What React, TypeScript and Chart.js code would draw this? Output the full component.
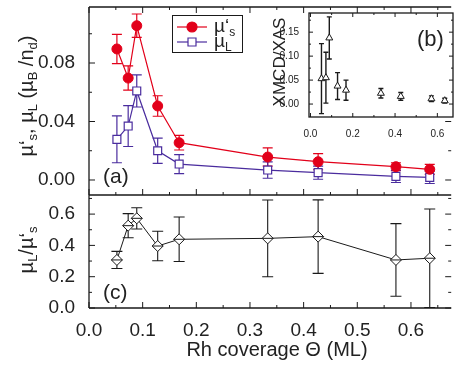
import React, { useEffect, useRef } from 'react';
import { Chart, registerables } from 'chart.js';

Chart.register(...registerables);

// ---------- data ----------
const coverage = [0.052, 0.073, 0.089, 0.128, 0.168, 0.333, 0.427, 0.572, 0.635];

const muS = [0.0896, 0.0697, 0.1055, 0.0506, 0.0255, 0.0157, 0.0125, 0.0091, 0.0073];
const muSErr = [0.010, 0.0083, 0.008, 0.007, 0.005, 0.0062, 0.0055, 0.0027, 0.0034];

const muL = [0.0278, 0.0369, 0.0609, 0.0200, 0.0109, 0.0068, 0.0050, 0.0025, 0.0018];
const muLErr = [0.016, 0.014, 0.011, 0.0087, 0.0065, 0.0056, 0.0045, 0.0042, 0.0042];

const ratio = [0.307, 0.526, 0.573, 0.396, 0.439, 0.445, 0.456, 0.307, 0.318];
const ratioErr = [0.055, 0.077, 0.068, 0.094, 0.142, 0.245, 0.235, 0.232, 0.315];

const xmcdXas = [0.053, 0.055, 0.138, 0.0375, 0.029, 0.0225, 0.016, 0.011, 0.007];
const xmcdXasErr = [0.073, 0.053, 0.044, 0.028, 0.021, 0.010, 0.008, 0.006, 0.005];

const xMajor = [0, 0.1, 0.2, 0.3, 0.4, 0.5, 0.6];
const xMinor = [0.05, 0.15, 0.25, 0.35, 0.45, 0.55, 0.65];
const muMajor = [0, 0.04, 0.08];
const muMinor = [0.02, 0.06, 0.1];
const ratioMajor = [0, 0.2, 0.4, 0.6];
const ratioMinor = [0.1, 0.3, 0.5, 0.7];
const insetXMajor = [0, 0.2, 0.4, 0.6];
const insetXMinor = [0.1, 0.3, 0.5];
const insetYMajor = [0, 0.05, 0.1, 0.15];
const insetYMinor = [0.025, 0.075, 0.125, 0.175];

// ---------- styles ----------
const FONT = '"Liberation Sans", Arial, Helvetica, sans-serif';
const RED = '#e2001a';
const PURPLE = '#4a2c9e';
const INK = '#1a1a1a';
const TEXT = '#222222';
const W = 458;
const H = 367;

Chart.defaults.font.family = FONT;

type Part = { t: string; sub?: boolean };

function drawRich(ctx: CanvasRenderingContext2D, parts: Part[], cx: number, cy: number,
  size: number, subSize: number, subDrop: number, rotate: boolean, align: 'center' | 'left' = 'center') {
  ctx.save();
  ctx.translate(cx, cy);
  if (rotate) ctx.rotate(-Math.PI / 2);
  ctx.textBaseline = 'alphabetic';
  ctx.textAlign = 'left';
  ctx.fillStyle = TEXT;
  let total = 0;
  const widths: number[] = [];
  for (const p of parts) {
    ctx.font = `${p.sub ? subSize : size}px ${FONT}`;
    const w = ctx.measureText(p.t).width;
    widths.push(w);
    total += w;
  }
  let x = align === 'center' ? -total / 2 : 0;
  parts.forEach((p, i) => {
    ctx.font = `${p.sub ? subSize : size}px ${FONT}`;
    ctx.fillText(p.t, x, p.sub ? subDrop : 0);
    x += widths[i];
  });
  ctx.restore();
}

function drawErr(ctx: CanvasRenderingContext2D, xs: any, ys: any, xv: number[], yv: number[],
  err: number[], color: string, cap: number, lw: number) {
  ctx.save();
  ctx.strokeStyle = color;
  ctx.lineWidth = lw;
  xv.forEach((xx, i) => {
    const px = xs.getPixelForValue(xx);
    const top = ys.getPixelForValue(yv[i] + err[i]);
    const bot = ys.getPixelForValue(yv[i] - err[i]);
    ctx.beginPath();
    ctx.moveTo(px, top); ctx.lineTo(px, bot);
    ctx.moveTo(px - cap, top); ctx.lineTo(px + cap, top);
    ctx.moveTo(px - cap, bot); ctx.lineTo(px + cap, bot);
    ctx.stroke();
  });
  ctx.restore();
}

const fixTicks = (vals: number[]) => (s: any) => { s.ticks = vals.map((v) => ({ value: v })); };

const mainPlugin = {
  id: 'mainDecor',
  beforeDatasetsDraw(chart: any) {
    const { ctx } = chart;
    const xs = chart.scales.x, yt = chart.scales.yt, yb = chart.scales.yb;
    drawErr(ctx, xs, yt, coverage, muS, muSErr, RED, 5, 1.2);
    drawErr(ctx, xs, yt, coverage, muL, muLErr, PURPLE, 5, 1.2);
    drawErr(ctx, xs, yb, coverage, ratio, ratioErr, INK, 5.5, 1.1);
  },
  afterDatasetsDraw(chart: any) {
    const { ctx } = chart;
    const xs = chart.scales.x, yt = chart.scales.yt, yb = chart.scales.yb;
    const L = xs.left, R = xs.right, T = yt.top, M = yt.bottom, B = yb.bottom;
    ctx.save();
    // horizontal bar inside the diamonds
    ctx.strokeStyle = INK;
    ctx.lineWidth = 1;
    ctx.beginPath();
    coverage.forEach((xx, i) => {
      const px = xs.getPixelForValue(xx);
      const py = yb.getPixelForValue(ratio[i]);
      ctx.moveTo(px - 5.5, py); ctx.lineTo(px + 5.5, py);
    });
    ctx.stroke();
    // frame
    ctx.lineWidth = 1.3;
    ctx.beginPath();
    ctx.moveTo(L, T); ctx.lineTo(R, T);
    ctx.moveTo(L, M); ctx.lineTo(R, M);
    ctx.moveTo(L, B); ctx.lineTo(R, B);
    ctx.moveTo(L, T); ctx.lineTo(L, B);
    ctx.stroke();
    // ticks
    ctx.lineWidth = 1;
    ctx.beginPath();
    const xt = (vals: number[], len: number) => vals.forEach((v) => {
      const p = xs.getPixelForValue(v);
      ctx.moveTo(p, T); ctx.lineTo(p, T + len);
      ctx.moveTo(p, M); ctx.lineTo(p, M - len);
      ctx.moveTo(p, B); ctx.lineTo(p, B - len);
    });
    xt(xMajor, 6); xt(xMinor, 3);
    const ytk = (sc: any, vals: number[], len: number) => vals.forEach((v) => {
      const p = sc.getPixelForValue(v);
      ctx.moveTo(L, p); ctx.lineTo(L + len, p);
      ctx.moveTo(R, p); ctx.lineTo(R - len, p);
    });
    ytk(yt, muMajor, 6); ytk(yt, muMinor, 3);
    ytk(yb, ratioMajor, 6); ytk(yb, ratioMinor, 3);
    ctx.stroke();

    // legend
    ctx.lineWidth = 1;
    ctx.strokeStyle = INK;
    ctx.fillStyle = '#fff';
    ctx.fillRect(172, 15, 71, 38);
    ctx.strokeRect(172.5, 15.5, 70, 37);
    const rows = [
      { y: 27, color: RED, style: 'circle', fill: RED, parts: [{ t: 'µ‘' }, { t: 's', sub: true }] },
      { y: 42, color: PURPLE, style: 'rect', fill: '#fff', parts: [{ t: 'µ' }, { t: 'L', sub: true }] },
    ];
    rows.forEach((r) => {
      ctx.strokeStyle = r.color;
      ctx.lineWidth = 1.2;
      ctx.beginPath();
      ctx.moveTo(177, r.y); ctx.lineTo(207, r.y);
      ctx.stroke();
      ctx.fillStyle = r.fill;
      ctx.beginPath();
      if (r.style === 'circle') {
        ctx.arc(192, r.y, 5, 0, Math.PI * 2);
      } else {
        ctx.rect(188, r.y - 4, 8, 8);
      }
      ctx.fill();
      ctx.stroke();
      drawRich(ctx, r.parts as Part[], 214, r.y + 5, 19, 12, 4, false, 'left');
    });

    // axis titles and panel labels
    drawRich(ctx, [{ t: 'µ‘' }, { t: 's', sub: true }, { t: ', µ' }, { t: 'L', sub: true },
      { t: ' (µ' }, { t: 'B', sub: true }, { t: ' /n' }, { t: 'd', sub: true }, { t: ')' }],
      33, 96, 20, 13, 4, true);
    drawRich(ctx, [{ t: 'µ' }, { t: 'L', sub: true }, { t: '/µ‘' }, { t: 's', sub: true }],
      33, 250, 20, 13, 4, true);
    drawRich(ctx, [{ t: 'Rh coverage Θ (ML)' }], 277, 356, 20, 13, 4, false);
    drawRich(ctx, [{ t: '(a)' }], 103, 182.5, 21, 13, 4, false, 'left');
    drawRich(ctx, [{ t: '(c)' }], 103, 299, 21, 13, 4, false, 'left');
    ctx.restore();
  },
};

const insetPlugin = {
  id: 'insetDecor',
  beforeDatasetsDraw(chart: any) {
    const { ctx, chartArea } = chart;
    const xs = chart.scales.x, ys = chart.scales.y;
    ctx.save();
    ctx.fillStyle = '#fff';
    ctx.fillRect(chartArea.left, chartArea.top, chartArea.right - chartArea.left, chartArea.bottom - chartArea.top);
    ctx.restore();
    drawErr(ctx, xs, ys, coverage, xmcdXas, xmcdXasErr, INK, 2.5, 1.4);
  },
  afterDatasetsDraw(chart: any) {
    const { ctx } = chart;
    const xs = chart.scales.x, ys = chart.scales.y;
    const L = xs.left, R = xs.right, T = ys.top, B = ys.bottom;
    ctx.save();
    ctx.strokeStyle = INK;
    ctx.lineWidth = 1.3;
    ctx.strokeRect(L, T, R - L, B - T);
    ctx.lineWidth = 1;
    ctx.beginPath();
    const xt = (vals: number[], len: number) => vals.forEach((v) => {
      const p = xs.getPixelForValue(v);
      ctx.moveTo(p, T); ctx.lineTo(p, T + len);
      ctx.moveTo(p, B); ctx.lineTo(p, B - len);
    });
    xt(insetXMajor, 4); xt(insetXMinor, 2);
    const yt = (vals: number[], len: number) => vals.forEach((v) => {
      const p = ys.getPixelForValue(v);
      ctx.moveTo(L, p); ctx.lineTo(L + len, p);
      ctx.moveTo(R, p); ctx.lineTo(R - len, p);
    });
    yt(insetYMajor, 4); yt(insetYMinor, 2);
    ctx.stroke();
    drawRich(ctx, [{ t: 'XMCD/XAS' }], 285, 62, 17, 12, 4, true);
    drawRich(ctx, [{ t: '(b)' }], 417, 45.5, 22, 13, 4, false, 'left');
    ctx.restore();
  },
};

function makeMainConfig(): any {
  return {
    type: 'line',
    data: {
      datasets: [
        {
          label: 'mu_s', yAxisID: 'yt',
          data: coverage.map((x, i) => ({ x, y: muS[i] })),
          borderColor: RED, borderWidth: 1.2, pointStyle: 'circle', pointRadius: 5,
          pointBackgroundColor: RED, pointBorderColor: RED, pointBorderWidth: 1,
        },
        {
          label: 'mu_L', yAxisID: 'yt',
          data: coverage.map((x, i) => ({ x, y: muL[i] })),
          borderColor: PURPLE, borderWidth: 1.2, pointStyle: 'rect', pointRadius: 5.6,
          pointBackgroundColor: '#fff', pointBorderColor: PURPLE, pointBorderWidth: 1.2,
        },
        {
          label: 'ratio', yAxisID: 'yb',
          data: coverage.map((x, i) => ({ x, y: ratio[i] })),
          borderColor: INK, borderWidth: 1, pointStyle: 'rectRot', pointRadius: 5.5,
          pointBackgroundColor: '#fff', pointBorderColor: INK, pointBorderWidth: 1,
        },
      ],
    },
    options: {
      animation: false,
      responsive: false,
      events: [],
      layout: { padding: { top: 7, left: 0, right: 0, bottom: 0 } },
      plugins: { legend: { display: false }, tooltip: { enabled: false } },
      scales: {
        x: {
          type: 'linear', position: 'bottom', min: 0, max: 0.675,
          grid: { display: false }, border: { display: false },
          afterBuildTicks: fixTicks(xMajor),
          ticks: { color: TEXT, font: { size: 19 }, padding: 3, maxRotation: 0, autoSkip: false,
            callback: (v: any) => Number(v).toFixed(1) },
          afterFit: (s: any) => { s.height = 59; s.paddingLeft = 0; s.paddingRight = 0; },
        },
        yt: {
          type: 'linear', position: 'left', stack: 'panels', stackWeight: 188, weight: 1,
          min: -0.01026, max: 0.1183,
          grid: { display: false }, border: { display: false },
          afterBuildTicks: fixTicks(muMajor),
          ticks: { color: TEXT, font: { size: 19 }, padding: 6, autoSkip: false,
            callback: (v: any) => Number(v).toFixed(2) },
          afterFit: (s: any) => { s.width = 89; s.paddingTop = 0; s.paddingBottom = 0; },
        },
        yb: {
          type: 'linear', position: 'left', stack: 'panels', stackWeight: 113, weight: 0,
          min: 0, max: 0.722,
          grid: { display: false }, border: { display: false },
          afterBuildTicks: fixTicks(ratioMajor),
          ticks: { color: TEXT, font: { size: 19 }, padding: 6, autoSkip: false,
            callback: (v: any) => Number(v).toFixed(1) },
          afterFit: (s: any) => { s.width = 89; s.paddingTop = 0; s.paddingBottom = 0; },
        },
      },
    },
    plugins: [mainPlugin],
  };
}

function makeInsetConfig(): any {
  return {
    type: 'scatter',
    data: {
      datasets: [
        {
          label: 'XMCD/XAS',
          data: coverage.map((x, i) => ({ x, y: xmcdXas[i] })),
          showLine: false, pointStyle: 'triangle', pointRadius: 4,
          pointBackgroundColor: '#fff', pointBorderColor: INK, pointBorderWidth: 1,
        },
      ],
    },
    options: {
      animation: false,
      responsive: false,
      events: [],
      // inset frame: x 309..454, y 13..117 in the same coordinates as the main chart
      layout: { padding: { top: 13, left: 258, right: 4, bottom: 227 } },
      plugins: { legend: { display: false }, tooltip: { enabled: false } },
      scales: {
        x: {
          type: 'linear', position: 'bottom', min: -0.007, max: 0.674,
          grid: { display: false }, border: { display: false },
          afterBuildTicks: fixTicks(insetXMajor),
          ticks: { color: TEXT, font: { size: 10 }, padding: 3, maxRotation: 0, autoSkip: false,
            callback: (v: any) => Number(v).toFixed(1) },
          afterFit: (s: any) => { s.height = 23; s.paddingLeft = 0; s.paddingRight = 0; },
        },
        y: {
          type: 'linear', position: 'left', min: -0.027, max: 0.19,
          grid: { display: false }, border: { display: false },
          afterBuildTicks: fixTicks(insetYMajor),
          ticks: { color: TEXT, font: { size: 10 }, padding: 2, autoSkip: false,
            callback: (v: any) => Number(v).toFixed(2) },
          afterFit: (s: any) => { s.width = 51; s.paddingTop = 0; s.paddingBottom = 0; },
        },
      },
    },
    plugins: [insetPlugin],
  };
}

export default function App() {
  const mainRef = useRef<HTMLCanvasElement>(null);
  const insetRef = useRef<HTMLCanvasElement>(null);
  useEffect(() => {
    const main = new Chart(mainRef.current as HTMLCanvasElement, makeMainConfig());
    const inset = new Chart(insetRef.current as HTMLCanvasElement, makeInsetConfig());
    return () => { main.destroy(); inset.destroy(); };
  }, []);
  return (
    <div style={{ position: 'absolute', left: 0, top: 0, width: W, height: H, background: '#fff' }}>
      <canvas ref={mainRef} width={W} height={H}
        style={{ position: 'absolute', left: 0, top: 0, width: W, height: H }} />
      <canvas ref={insetRef} width={W} height={H}
        style={{ position: 'absolute', left: 0, top: 0, width: W, height: H }} />
    </div>
  );
}
